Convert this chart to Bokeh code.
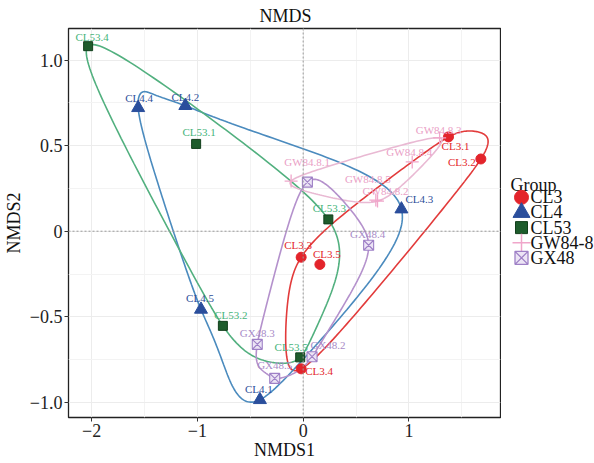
import numpy as np
from bokeh.plotting import figure
from bokeh.layouts import row
from bokeh.models import ColumnDataSource, FixedTicker, Span, Range1d
from bokeh.core.properties import value
from bokeh.embed import file_html
from bokeh.resources import INLINE

# ---------------- data ----------------
groups = ["CL3", "CL4", "CL53", "GW84-8", "GX48"]

cl3_names = ["CL3.1", "CL3.2", "CL3.3", "CL3.4", "CL3.5"]
cl3_x = [1.374, 1.680, -0.019, -0.019, 0.158]
cl3_y = [0.551, 0.422, -0.152, -0.804, -0.194]

cl4_names = ["CL4.1", "CL4.2", "CL4.3", "CL4.4", "CL4.5"]
cl4_x = [-0.409, -1.114, 0.929, -1.560, -0.966]
cl4_y = [-0.985, 0.733, 0.129, 0.721, -0.457]

cl53_names = ["CL53.1", "CL53.2", "CL53.3", "CL53.4", "CL53.5"]
cl53_x = [-1.012, -0.759, 0.238, -2.033, -0.028]
cl53_y = [0.510, -0.553, 0.069, 1.081, -0.737]

gw_names = ["GW84.8.1", "GW84.8.2", "GW84.8.3", "GW84.8.4", "GW84.8.5"]
gw_x = [-0.114, 0.703, 1.290, 1.031, 0.687]
gw_y = [0.293, 0.176, 0.545, 0.405, 0.182]

gx_names = ["GX48.1", "GX48.2", "GX48.3", "GX48.4", "GX48.5"]
gx_x = [0.040, 0.084, -0.434, 0.619, -0.269]
gx_y = [0.287, -0.733, -0.661, -0.082, -0.860]

x_ticks = [-2, -1, 0, 1]
x_tick_labels = ["\u22122", "\u22121", "0", "1"]
y_ticks = [-1.0, -0.5, 0.0, 0.5, 1.0]
y_tick_labels = ["\u22121.0", "\u22120.5", "0", "0.5", "1.0"]

legend_title = "Group"

# ---------------- styles ----------------
FONT = "Liberation Serif"
marker_style = {
    "CL3": dict(marker="circle", size=10, fill_color="#e3242b", line_color="#e3242b"),
    "CL4": dict(marker="triangle", size=13, fill_color="#2a4e9c", line_color="#2a4e9c"),
    "CL53": dict(marker="square", size=9, fill_color="#1e5c2c", line_color="#123f1c"),
    "GW84-8": dict(marker="cross", size=13, fill_color=None, line_color="#f0a6ca", line_width=1.3),
    "GX48": dict(marker="square_x", size=10, fill_color="#ece4f5", line_color="#9e80c6", line_width=1.1),
}
legend_style = {
    "CL3": dict(marker="circle", size=14, fill_color="#e3242b", line_color="#e3242b"),
    "CL4": dict(marker="triangle", size=17, fill_color="#2a4e9c", line_color="#2a4e9c"),
    "CL53": dict(marker="square", size=12, fill_color="#1e5c2c", line_color="#123f1c"),
    "GW84-8": dict(marker="cross", size=18, fill_color=None, line_color="#f0a6ca", line_width=1.5),
    "GX48": dict(marker="square_x", size=13, fill_color="#ece4f5", line_color="#9e80c6", line_width=1.3),
}
curve_color = {"CL3": "#e23b3b", "CL4": "#4b8bbe", "CL53": "#52b07f",
               "GW84-8": "#e9b9d3", "GX48": "#b491cc"}
label_color = {"CL3": "#e3262a", "CL4": "#2f4f9a", "CL53": "#45b47a",
               "GW84-8": "#eaa0c6", "GX48": "#a88bc8"}
# label offsets in screen pixels (dx, dy with dy downward)
label_offsets = {
    "CL3": [(7, 9), (-19, 3), (-3, -12), (18, 2), (7, -10)],
    "CL4": [(-1, -11), (0, -9), (18, -10), (1, -10), (-1, -11)],
    "CL53": [(3, -12), (8, -11), (1, -11), (4, -9), (-9, -10)],
    "GW84-8": [(16, -19), (8, -10), (-1, -8), (-3, -10), (-8, -21)],
    "GX48": [(0, 0), (16, -12), (0, -11), (-1, -11), (0, -13)],
}
label_show = {"GX48": [False, True, True, True, True]}

data = {
    "CL3": (cl3_names, cl3_x, cl3_y),
    "CL4": (cl4_names, cl4_x, cl4_y),
    "CL53": (cl53_names, cl53_x, cl53_y),
    "GW84-8": (gw_names, gw_x, gw_y),
    "GX48": (gx_names, gx_x, gx_y),
}

all_x = np.concatenate([np.array(data[g][1]) for g in groups])
all_y = np.concatenate([np.array(data[g][2]) for g in groups])
xr = all_x.max() - all_x.min()
yr = all_y.max() - all_y.min()
x_range = (float(all_x.min() - 0.05 * xr), float(all_x.max() + 0.05 * xr))
y_range = (float(all_y.min() - 0.05 * yr), float(all_y.max() + 0.05 * yr))


# ---------------- encircle (convex hull + closed interpolating X-spline) ----------------
def convex_hull(pts):
    pts = sorted(set(pts))
    if len(pts) <= 2:
        return pts

    def cross(o, a, b):
        return (a[0] - o[0]) * (b[1] - o[1]) - (a[1] - o[1]) * (b[0] - o[0])
    lower, upper = [], []
    for p_ in pts:
        while len(lower) >= 2 and cross(lower[-2], lower[-1], p_) <= 0:
            lower.pop()
        lower.append(p_)
    for p_ in reversed(pts):
        while len(upper) >= 2 and cross(upper[-2], upper[-1], p_) <= 0:
            upper.pop()
        upper.append(p_)
    return lower[:-1] + upper[:-1]


def g_blend(u, q):
    return u * (q + u * (2 * q + u * (8 - 12 * q + u * (14 * q - 11 + u * (4 - 5 * q)))))


def h_blend(u, q):
    u2 = u * u
    return u * (q + u * (2 * q + u2 * (-2 * q - u * q)))


def xspline_closed(cx, cy, shape=-0.5, steps=60):
    q = -shape
    n = len(cx)
    ox, oy = [], []
    for k in range(n):
        i0, i1, i2, i3 = (k - 1) % n, k, (k + 1) % n, (k + 2) % n
        for t in np.linspace(0, 1, steps, endpoint=False):
            a0 = h_blend(-t, q)
            a2 = g_blend(t, q)
            a1 = g_blend(1 - t, q)
            a3 = h_blend(t - 1, q)
            w = a0 + a1 + a2 + a3
            ox.append(float((a0 * cx[i0] + a1 * cx[i1] + a2 * cx[i2] + a3 * cx[i3]) / w))
            oy.append(float((a0 * cy[i0] + a1 * cy[i1] + a2 * cy[i2] + a3 * cy[i3]) / w))
    ox.append(ox[0])
    oy.append(oy[0])
    return ox, oy


def encircle(xs, ys):
    hull = convex_hull([(float(a), float(b)) for a, b in zip(xs, ys)])
    return xspline_closed([a for a, _ in hull], [b for _, b in hull])


# ---------------- main figure ----------------
p = figure(width=501, height=463, x_range=x_range, y_range=y_range,
           output_backend="svg", toolbar_location=None,
           min_border_left=62, min_border_right=1, min_border_top=28, min_border_bottom=46)

p.background_fill_color = "white"
p.border_fill_color = "white"
p.outline_line_color = "#222222"
p.outline_line_width = 1.3

p.title.text = "NMDS"
p.title.align = "left"
p.title.offset = 191
p.title.text_font = FONT
p.title.text_font_size = "18px"
p.title.text_font_style = "normal"
p.title.text_color = "#111111"
p.title.standoff = 5

xt = FixedTicker(ticks=x_ticks, minor_ticks=[-1.5, -0.5, 0.5, 1.5])
yt = FixedTicker(ticks=y_ticks, minor_ticks=[-0.75, -0.25, 0.25, 0.75])
p.xaxis.ticker = xt
p.yaxis.ticker = yt
p.xgrid.ticker = xt
p.ygrid.ticker = yt
p.xaxis.major_label_overrides = {t: l for t, l in zip(x_ticks, x_tick_labels)}
p.yaxis.major_label_overrides = {t: l for t, l in zip(y_ticks, y_tick_labels)}
for g_ in (p.xgrid, p.ygrid):
    g_.grid_line_color = "#ececec"
    g_.grid_line_width = 1
    g_.minor_grid_line_color = "#f3f3f3"
    g_.minor_grid_line_width = 1

for ax in (p.xaxis, p.yaxis):
    ax.axis_line_color = None
    ax.major_tick_line_color = "#333333"
    ax.major_tick_in = 0
    ax.major_tick_out = 4
    ax.minor_tick_line_color = None
    ax.major_label_text_font = FONT
    ax.major_label_text_font_size = "18px"
    ax.major_label_text_color = "#222222"
    ax.major_label_standoff = 2
    ax.axis_label_text_font = FONT
    ax.axis_label_text_font_size = "18px"
    ax.axis_label_text_font_style = "normal"
    ax.axis_label_text_color = "#111111"
    ax.axis_label_standoff = 0
p.xaxis.axis_label = "NMDS1"
p.yaxis.axis_label = "NMDS2"
p.yaxis.axis_label_standoff = 3

p.add_layout(Span(location=0, dimension="height", line_color="#9a9a9a",
                  line_dash="2 2", line_width=1))
p.add_layout(Span(location=0, dimension="width", line_color="#9a9a9a",
                  line_dash="2 2", line_width=1))

# curves
for g in groups:
    _, xs, ys = data[g]
    cx, cy = encircle(xs, ys)
    p.line(cx, cy, line_color=curve_color[g], line_width=1.6)

# points
for g in groups:
    names, xs, ys = data[g]
    src = ColumnDataSource(dict(x=xs, y=ys))
    p.scatter("x", "y", source=src, **marker_style[g])

# labels
for g in groups:
    names, xs, ys = data[g]
    show = label_show.get(g, [True] * len(names))
    offs = label_offsets[g]
    src = ColumnDataSource(dict(
        x=[x for x, s in zip(xs, show) if s],
        y=[y for y, s in zip(ys, show) if s],
        t=[n for n, s in zip(names, show) if s],
        dx=[o[0] for o, s in zip(offs, show) if s],
        dy=[o[1] for o, s in zip(offs, show) if s],
    ))
    p.text("x", "y", text="t", source=src, x_offset="dx", y_offset="dy",
           text_align="center", text_baseline="middle",
           text_font_size="11px", text_font=value(FONT),
           text_color=label_color[g])

# ---------------- legend panel (pixel coordinates) ----------------
LW, LH = 93, 463
pl = figure(width=LW, height=LH, x_range=Range1d(0, LW), y_range=Range1d(0, LH),
            output_backend="svg", toolbar_location=None, min_border=0)
pl.axis.visible = False
pl.grid.visible = False
pl.outline_line_color = None
pl.background_fill_color = "white"
pl.border_fill_color = "white"

title_top = 186      # centre of the legend title, px from the top
first_item = 201     # centre of the first key, px from the top
item_step = 18
key_x = 20
text_x = 29

pl.text([9], [LH - title_top], text=[legend_title], text_align="left",
        text_baseline="middle", text_font=value(FONT), text_font_size="18px",
        text_color="#111111")
for i, g in enumerate(groups):
    yy = LH - (first_item + i * item_step)
    pl.scatter([key_x], [yy], **legend_style[g])
    pl.text([text_x], [yy], text=[g], text_align="left", text_baseline="middle",
            text_font=value(FONT), text_font_size="18px", text_color="#111111")

layout = row(p, pl, spacing=0)
open("out.html", "w").write(file_html(layout, INLINE))
